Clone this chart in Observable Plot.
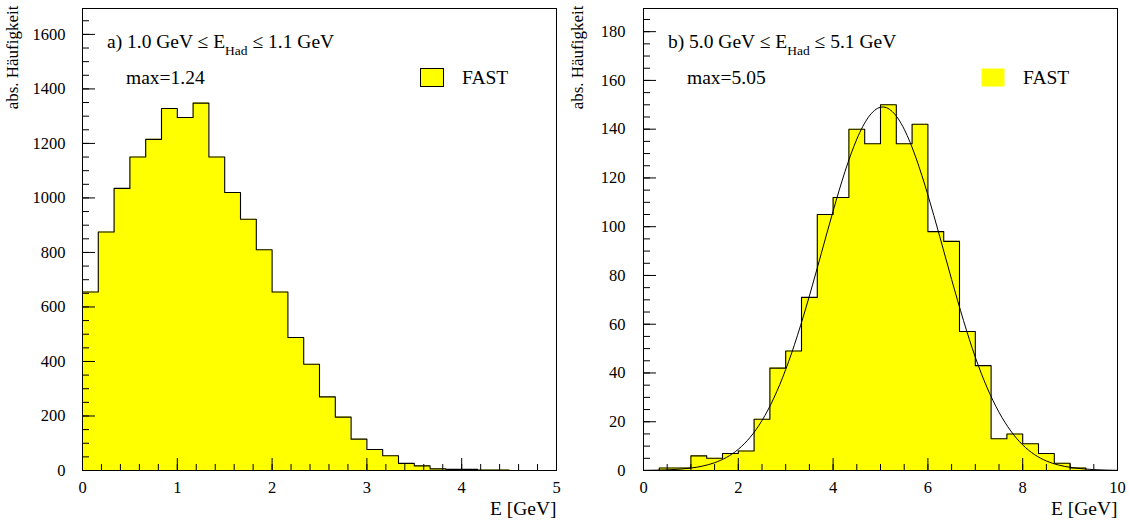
<!DOCTYPE html>
<html><head><meta charset="utf-8">
<script src="https://cdn.jsdelivr.net/npm/d3@7"></script>
<script src="https://cdn.jsdelivr.net/npm/@observablehq/plot@0.6"></script>
<style>
body{margin:0;background:#fff;}
#wrap{position:relative;width:1129px;height:520px;}
.panel{position:absolute;top:0;}
#wrap svg, #wrap svg text{font-family:"Liberation Serif","Times New Roman",serif !important;}
#wrap svg g[aria-label$="tick label"] text{font-size:16.5px;}
</style></head><body><div id="wrap"></div>
<script>
// ---- data ----
const leftRange = [0, 5];
const leftCounts = [655,875,1035,1150,1215,1328,1295,1348,1150,1020,922,810,655,488,390,270,196,115,77,54,26,17,6,4,4,2,2,0,0,0];
const leftYMax = 1695;
const leftXMajor = [0,1,2,3,4,5];
const leftYMajor = [0,200,400,600,800,1000,1200,1400,1600];

const rightRange = [0, 10];
const rightCounts = [0,1,1,6,5,7,8,21,42,49,71,105,112,140,134,150,134,142,98,94,57,43,13,15,11,7,3,1,0,0];
const rightYMax = 189.5;
const rightXMajor = [0,2,4,6,8,10];
const rightYMajor = [0,20,40,60,80,100,120,140,160,180];
const fitX = [0,0.5,1,1.5,2,2.5,3,3.5,4,4.5,5,5.5,6,6.5,7,7.5,8,8.5,9,9.5,10];
const fitY = [0.06,0.27,1.0,3.2,8.7,20.5,41.4,71.6,106.4,135.9,149,140,113,78.4,46.5,23.9,10.5,3.9,1.3,0.36,0.07];

const titles = [["a) 1.0 GeV \u2264 E","Had"," \u2264 1.1 GeV"],["b) 5.0 GeV \u2264 E","Had"," \u2264 5.1 GeV"]];
const maxLabels = ["max=1.24","max=5.05"];
const legendLabel = "FAST";
const yTitle = "abs. H\u00e4ufigkeit";
const xTitle = "E [GeV]";

const FONT = '"Liberation Serif", "Times New Roman", serif';
const YELLOW = "#ffff00";
const fmt = d3.format("d");

function panel(o){
  const n = o.counts.length;
  const w = (o.range[1]-o.range[0])/n;
  const outline = o.counts.map((c,i)=>({x:o.range[0]+i*w, y:c})).concat([{x:o.range[1], y:o.counts[n-1]}]);
  const marks = [
    Plot.areaY(outline,{x:"x",y:"y",curve:"step-after",fill:YELLOW}),
    Plot.line(outline,{x:"x",y:"y",curve:"step-after",stroke:"black",strokeWidth:1.1})
  ];
  if (o.fit) marks.push(Plot.line(o.fit.x.map((x,i)=>({x,y:o.fit.y[i]})),{x:"x",y:"y",curve:"natural",stroke:"black",strokeWidth:1,clip:true}));
  marks.push(
    Plot.axisX(o.xMinor,{tickSize:-6,fill:"none",label:null}),
    Plot.axisX(o.xMajor,{tickSize:-12,fill:"none",label:null}),
    Plot.axisX(o.xMajor,{tickSize:0,tickPadding:11,label:null,fontSize:16.5,tickFormat:fmt}),
    Plot.axisY(o.yMinor,{tickSize:-7,fill:"none",label:null}),
    Plot.axisY(o.yMajor,{tickSize:-13,fill:"none",label:null}),
    Plot.axisY(o.yMajor,{tickSize:0,tickPadding:o.ypad,label:null,fontSize:16.5,tickFormat:fmt}),
    Plot.frame({stroke:"black",strokeWidth:1}),
    Plot.text([yTitle],{frameAnchor:"top-left",rotate:-90,textAnchor:"end",lineAnchor:"middle",dx:o.ytdx,dy:-3,fontSize:17}),
    Plot.text([xTitle],{frameAnchor:"bottom-right",textAnchor:"end",lineAnchor:"middle",dy:38,fontSize:19.5})
  );
  const svg = Plot.plot({
    width:o.width, height:520,
    marginLeft:o.ml, marginRight:o.mr, marginTop:8, marginBottom:50,
    x:{domain:o.range},
    y:{domain:[0,o.yMax]},
    style:{fontFamily:FONT,fontSize:"16.5px",background:"white",color:"black"},
    marks
  });
  const s = d3.select(svg);
  const g = s.append("g").attr("font-family",FONT).attr("font-size",19.5).attr("text-anchor","start").attr("fill","black");
  const t = g.append("text").attr("x",o.ml+25).attr("y",48);
  t.append("tspan").text(o.title[0]);
  t.append("tspan").attr("font-size",13.5).attr("dy",7).text(o.title[1]);
  t.append("tspan").attr("dy",-7).text(o.title[2]);
  g.append("text").attr("x",o.ml+44).attr("y",84).text(o.maxLabel);
  g.append("rect").attr("x",o.ml+338.5).attr("y",68.5).attr("width",23).attr("height",18).attr("fill",YELLOW).attr("stroke",o.boxStroke);
  g.append("text").attr("x",o.ml+380).attr("y",84).text(legendLabel);
  return svg;
}

const wrap = document.getElementById("wrap");
const left = panel({counts:leftCounts, range:leftRange, yMax:leftYMax, xMajor:leftXMajor, xMinor:d3.range(0,5.001,0.2),
  yMajor:leftYMajor, yMinor:d3.range(0,1651,50), width:564, ml:82, mr:8, ypad:17, ytdx:-70, title:titles[0], maxLabel:maxLabels[0], boxStroke:"black"});
const right = panel({counts:rightCounts, range:rightRange, yMax:rightYMax, xMajor:rightXMajor, xMinor:d3.range(0,10.001,0.5),
  yMajor:rightYMajor, yMinor:d3.range(0,186,5), width:565, ml:79, mr:12, ypad:18, ytdx:-66, fit:{x:fitX,y:fitY}, title:titles[1], maxLabel:maxLabels[1], boxStroke:"none"});
const d1 = document.createElement("div"); d1.className="panel"; d1.style.left="0px"; d1.appendChild(left);
const d2 = document.createElement("div"); d2.className="panel"; d2.style.left="564px"; d2.appendChild(right);
wrap.appendChild(d1); wrap.appendChild(d2);
</script>
</body></html>
